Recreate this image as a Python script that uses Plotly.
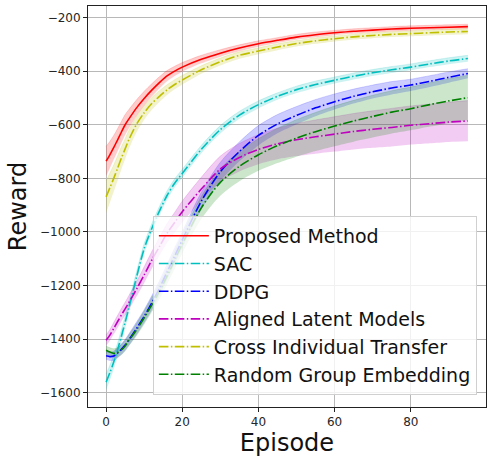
import plotly.graph_objects as go

episodes = [0, 1, 2, 3, 4, 5, 6, 8, 10, 12, 14, 16, 18, 20, 25, 30, 35, 40, 45, 50, 55, 60, 65, 70, 75, 80, 85, 90, 95]

proposed = [-736, -712, -685, -657, -628, -600, -578, -537, -502, -471, -443, -418, -400, -385, -356, -333, -314, -298, -285, -273, -264, -257, -251, -247, -243, -240, -238, -236, -234]
proposed_sd = [55, 50, 45, 42, 40, 38, 35, 30, 27, 24, 22, 20, 18, 17, 15, 13, 12, 11, 10, 10, 10, 9, 9, 9, 9, 9, 9, 9, 9]

sac = [-1560, -1525, -1485, -1440, -1390, -1337, -1282, -1168, -1062, -987, -922, -864, -818, -782, -692, -618, -564, -525, -494, -469, -450, -434, -419, -406, -395, -385, -373, -362, -353]
sac_sd = [30, 28, 26, 25, 24, 23, 22, 20, 19, 18, 17, 17, 16, 16, 15, 15, 14, 14, 13, 13, 13, 12, 12, 12, 12, 12, 12, 12, 12]

ddpg = [-1462, -1465, -1463, -1452, -1438, -1422, -1402, -1360, -1315, -1265, -1210, -1150, -1090, -1030, -885, -775, -700, -640, -597, -565, -537, -514, -494, -477, -463, -452, -438, -423, -409]
ddpg_sd = [15, 16, 18, 19, 20, 21, 22, 24, 25, 27, 28, 29, 30, 30, 33, 35, 36, 37, 35, 33, 31, 29, 27, 25, 24, 22, 21, 20, 18]

aligned = [-1404, -1385, -1360, -1335, -1310, -1287, -1263, -1213, -1160, -1105, -1055, -1005, -965, -925, -840, -765, -722, -692, -671, -656, -645, -635, -625, -617, -610, -602, -596, -590, -586]
aligned_sd = [20, 21, 22, 23, 24, 25, 26, 28, 30, 32, 34, 36, 38, 40, 44, 48, 52, 55, 58, 61, 63, 65, 67, 69, 71, 72, 73, 74, 76]

cross = [-869, -835, -800, -763, -725, -690, -655, -598, -555, -521, -494, -470, -450, -433, -395, -365, -341, -325, -310, -297, -287, -279, -272, -267, -263, -260, -257, -254, -252]
cross_sd = [60, 55, 50, 46, 42, 38, 35, 30, 26, 23, 21, 19, 18, 17, 15, 14, 13, 12, 12, 11, 11, 10, 10, 10, 10, 10, 10, 10, 10]

random_group = [-1441, -1448, -1453, -1450, -1440, -1425, -1405, -1365, -1320, -1272, -1222, -1165, -1105, -1045, -910, -815, -755, -712, -678, -650, -626, -605, -586, -569, -553, -540, -525, -511, -499]
random_group_sd = [15, 16, 17, 18, 19, 20, 21, 23, 25, 27, 29, 31, 33, 35, 42, 50, 56, 60, 65, 69, 72, 75, 77, 79, 80, 81, 82, 83, 84]

x_ticks = [0, 20, 40, 60, 80]
y_ticks = [-1600, -1400, -1200, -1000, -800, -600, -400, -200]
y_tick_text = ["\u22121600", "\u22121400", "\u22121200", "\u22121000", "\u2212800", "\u2212600", "\u2212400", "\u2212200"]

series = [
    ("Proposed Method", proposed, proposed_sd, "255,0,0", "solid"),
    ("SAC", sac, sac_sd, "0,191,191", "9.6px,2.4px,1.5px,2.4px"),
    ("DDPG", ddpg, ddpg_sd, "0,0,255", "9.6px,2.4px,1.5px,2.4px"),
    ("Aligned Latent Models", aligned, aligned_sd, "191,0,191", "9.6px,2.4px,1.5px,2.4px"),
    ("Cross Individual Transfer", cross, cross_sd, "191,191,0", "9.6px,2.4px,1.5px,2.4px"),
    ("Random Group Embedding", random_group, random_group_sd, "0,128,0", "9.6px,2.4px,1.5px,2.4px"),
]

fig = go.Figure()

for name, mean, sd, rgb, dash in series:
    lower = [m - s for m, s in zip(mean, sd)]
    upper = [m + s for m, s in zip(mean, sd)]
    fig.add_trace(go.Scatter(x=episodes, y=lower, mode="lines", line=dict(width=0, shape="spline", smoothing=0.8),
                             showlegend=False, hoverinfo="skip"))
    fig.add_trace(go.Scatter(x=episodes, y=upper, mode="lines", line=dict(width=0.6, color=f"rgba({rgb},0.25)", shape="spline", smoothing=0.8),
                             fill="tonexty", fillcolor=f"rgba({rgb},0.2)", showlegend=False, hoverinfo="skip"))

for name, mean, sd, rgb, dash in series:
    fig.add_trace(go.Scatter(x=episodes, y=mean, mode="lines", name=name,
                             line=dict(color=f"rgb({rgb})", width=1.6, dash=dash, shape="spline", smoothing=0.8)))

axis_common = dict(showgrid=True, gridcolor="#b8b8b8", gridwidth=1, zeroline=False,
                   showline=True, linecolor="#222222", linewidth=1, mirror=True,
                   ticks="outside", ticklen=4, tickcolor="#222222",
                   tickfont=dict(family="DejaVu Sans", size=12, color="#262626"))

fig.update_xaxes(range=[-4.75, 99.75], tickvals=x_ticks,
                 title=dict(text="Episode", font=dict(family="DejaVu Sans", size=24, color="#111111"), standoff=6),
                 **axis_common)
fig.update_yaxes(range=[-1653, -157], tickvals=y_ticks, ticktext=y_tick_text,
                 title=dict(text="Reward", font=dict(family="DejaVu Sans", size=24, color="#111111"), standoff=6),
                 **axis_common)

fig.update_layout(
    width=487, height=457,
    margin=dict(l=88, r=1, t=6, b=50, autoexpand=False),
    paper_bgcolor="white", plot_bgcolor="white",
    font=dict(family="DejaVu Sans"),
    legend=dict(x=0.163, y=0.03, xanchor="left", yanchor="bottom", traceorder="normal",
                bgcolor="rgba(255,255,255,0.8)", bordercolor="#d0d0d0", borderwidth=1,
                font=dict(family="DejaVu Sans", size=19, color="#111111"),
                itemwidth=50, tracegroupgap=0),
)

fig.write_html("out.html", config={"displayModeBar": False},
               post_script="document.body.style.margin='0';document.body.style.overflow='hidden';")
